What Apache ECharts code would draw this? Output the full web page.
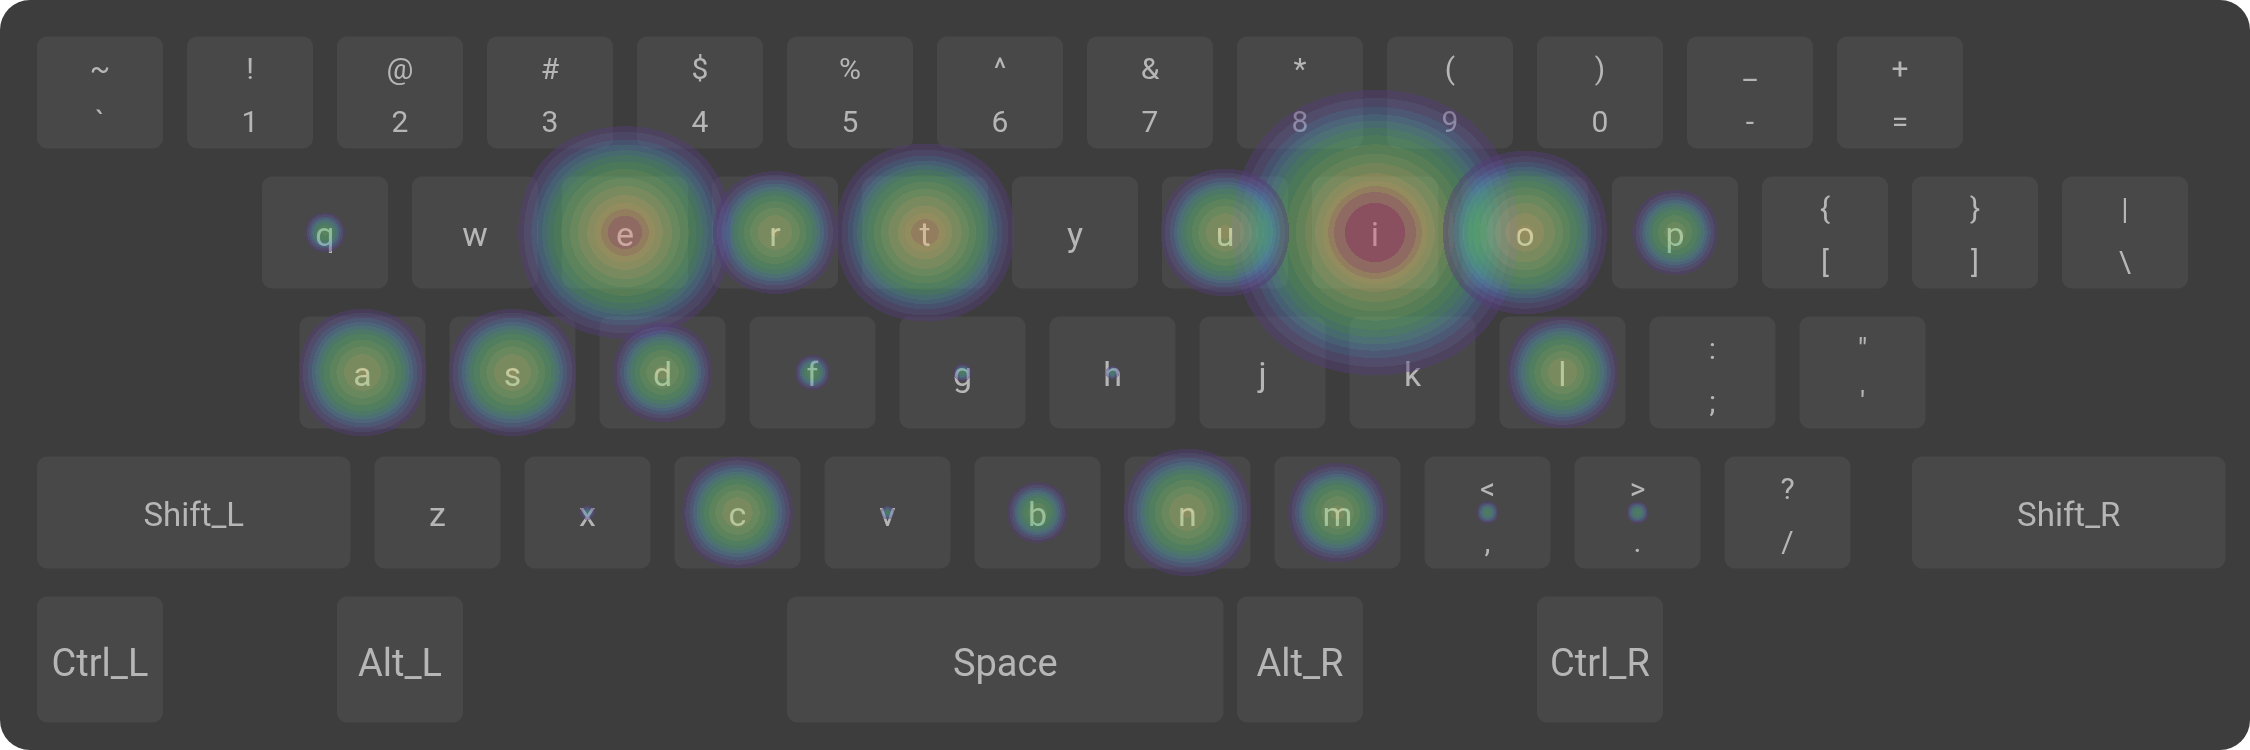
<!DOCTYPE html>
<html>
<head>
<meta charset="utf-8">
<script src="https://cdn.jsdelivr.net/npm/echarts@6/dist/echarts.min.js"></script>
<style>
html,body{margin:0;padding:0;background:#ffffff;}
#chart{width:2250px;height:750px;}
</style>
</head>
<body>
<div id="chart"></div>
<script>
// ---------------- DATA ----------------
// keyboard rows (key ids, unshifted label)
const ROW_KEYS = [
  ['`','1','2','3','4','5','6','7','8','9','0','-','='],
  ['q','w','e','r','t','y','u','i','o','p','[',']','\\'],
  ['a','s','d','f','g','h','j','k','l',';',"'"],
  ['Shift_L','z','x','c','v','b','n','m',',','.','/','Shift_R'],
  ['Ctrl_L','Alt_L','Space','Alt_R','Ctrl_R']
];
// shifted labels shown above the unshifted one
const SHIFT_KEYS   = ['`','1','2','3','4','5','6','7','8','9','0','-','=','[',']','\\',';',"'",',','.','/'];
const SHIFT_LABELS = ['~','!','@','#','$','%','^','&','*','(',')','_','+','{','}','|',':','"','<','>','?'];
// key heat intensity (0..100)
const HEAT_KEYS   = ['i','e','t','o','u','a','s','n','r','l','c','d','m','p','b','q','f',',','.','g','x','v','h'];
const HEAT_VALUES = [100, 88, 81, 78.5, 70, 69.5, 69.5, 69.5, 68.5, 66, 65.5, 62.5, 62.5, 58, 50, 41, 39, 32.5, 32.5, 29.5, 26.5, 25.5, 25.5];

// ---------------- LAYOUT / STYLE ----------------
const W = 2250, H = 750;
const X0 = 37, KEY_PITCH = 150, KEY_GAP = 24, ROW_TOP0 = 36.5, ROW_PITCH = 140;
const ROW_HEIGHT = [112, 112, 112, 112, 126];
const ROW_START = [0, 1.5, 1.75, 0, 0];
const SPECIAL = {
  Shift_L:{x:0,w:2.25}, Shift_R:{x:12.5,w:2.25},
  Ctrl_L:{x:0,w:1}, Alt_L:{x:2,w:1}, Space:{x:5,w:3.07}, Alt_R:{x:8,w:1}, Ctrl_R:{x:10,w:1}
};
const BG = '#3d3d3d', KEY_FILL = '#484848', TEXT = '#b6b6b6', FONT = 'Roboto';
const MAX_RADIUS = 172.5;   // heat brush radius (px) for the max value; radius grows with value^2

// colour bands of the heat scale (lower edge on the 0..255 density scale)
const BAND_EDGES  = [8, 10.6, 14.7, 18.6, 22.9, 27.3, 33.1, 41.4, 50.2, 59.3, 69.2, 76.2, 82, 87, 95];
const BAND_COLORS = ['rgb(85,63,125)','rgb(94,81,148)','rgb(85,108,170)','rgb(81,137,181)','rgb(81,161,170)',
  'rgb(85,179,143)','rgb(94,192,121)','rgb(117,205,117)','rgb(148,214,121)','rgb(181,219,125)',
  'rgb(214,223,125)','rgb(237,223,125)','rgb(237,192,125)','rgb(230,148,130)','rgb(219,90,125)'];
const GRADIENT = [];
for (let i = 0; i < 256; i++) {
  let b = -1;
  BAND_EDGES.forEach((e, j) => { if (i + 1 >= e) b = j; });
  GRADIENT.push(b < 0 ? 'rgba(85,63,125,0)' : BAND_COLORS[b]);
}

// ---------------- BUILD ----------------
const KEYS = [];
ROW_KEYS.forEach((row, r) => {
  let u = ROW_START[r];
  row.forEach(id => {
    let x = u, w = 1;
    if (SPECIAL[id]) { x = SPECIAL[id].x; w = SPECIAL[id].w; }
    KEYS.push({id, row: r, x: X0 + x * KEY_PITCH, y: ROW_TOP0 + r * ROW_PITCH, w: w * KEY_PITCH - KEY_GAP, h: ROW_HEIGHT[r]});
    u = x + w;
  });
});
const keyById = {};
KEYS.forEach(k => keyById[k.id] = k);

echarts.registerMap('kb', {
  type: 'FeatureCollection',
  features: [{type:'Feature', properties:{name:'kb'},
    geometry:{type:'Polygon', coordinates:[[[0,0],[W,0],[W,-H],[0,-H],[0,0]]]}}]
});

function txt(s, x, y, fs) {
  return {type:'text', x: x, y: y, style:{text: s, fill: TEXT, font: fs + 'px ' + FONT, align:'center', verticalAlign:'middle'}};
}

const keySeries = {
  type: 'custom', coordinateSystem: 'geo', geoIndex: 0, z: 1, silent: true,
  data: KEYS.map(k => [k.x + k.w / 2, -(k.y + k.h / 2)]),
  renderItem: function (params, api) {
    const k = KEYS[params.dataIndex];
    const p0 = api.coord([k.x, -k.y]);
    const p1 = api.coord([k.x + k.w, -(k.y + k.h)]);
    const x = p0[0], y = p0[1], w = p1[0] - p0[0], h = p1[1] - p0[1];
    const children = [{type:'rect', shape:{x:x, y:y, width:w, height:h, r:10}, style:{fill: KEY_FILL}}];
    const si = SHIFT_KEYS.indexOf(k.id);
    if (si >= 0) {
      children.push(txt(SHIFT_LABELS[si], x + w / 2, y + h * 0.28 + 4, 30));
      children.push(txt(k.id, x + w / 2, y + h * 0.75 + 4, 30));
    } else if (k.row === 4) {
      children.push(txt(k.id, x + w / 2, y + h / 2 + 7, 38));
    } else {
      children.push(txt(k.id, x + w / 2, y + h / 2 + 5, k.id.length > 1 ? 33 : 34));
    }
    return {type:'group', children: children};
  }
};

const heatSeries = HEAT_KEYS.map((id, i) => {
  const k = keyById[id];
  const v = HEAT_VALUES[i] / 100;
  const R = MAX_RADIUS * v * v;
  return {
    type: 'heatmap', coordinateSystem: 'geo', geoIndex: 0, z: 5,
    pointSize: Math.max(1, Math.round(R / 3)), blurSize: Math.max(1, Math.round(R * 2 / 3)),
    minOpacity: 0.45, maxOpacity: 0.45,
    data: [[k.x + k.w / 2, -(k.y + k.h / 2), HEAT_VALUES[i]]]
  };
});

const chart = echarts.init(document.getElementById('chart'), null, {renderer:'canvas'});
chart.setOption({
  animation: false,
  backgroundColor: 'transparent',
  graphic: [{type:'rect', z:-10, silent:true, shape:{x:0, y:0, width:W, height:H, r:30}, style:{fill: BG}}],
  geo: {
    map: 'kb', roam: false, aspectScale: 1, layoutCenter: ['50%','50%'], layoutSize: W, silent: true,
    itemStyle: {areaColor:'rgba(0,0,0,0)', borderColor:'rgba(0,0,0,0)', borderWidth:0},
    emphasis: {disabled: true}, label: {show:false}
  },
  visualMap: {
    type: 'continuous', show: false, min: 0, max: 100,
    seriesIndex: heatSeries.map((s, i) => i + 1),
    inRange: {color: GRADIENT}
  },
  series: [keySeries].concat(heatSeries)
});
</script>
</body>
</html>
